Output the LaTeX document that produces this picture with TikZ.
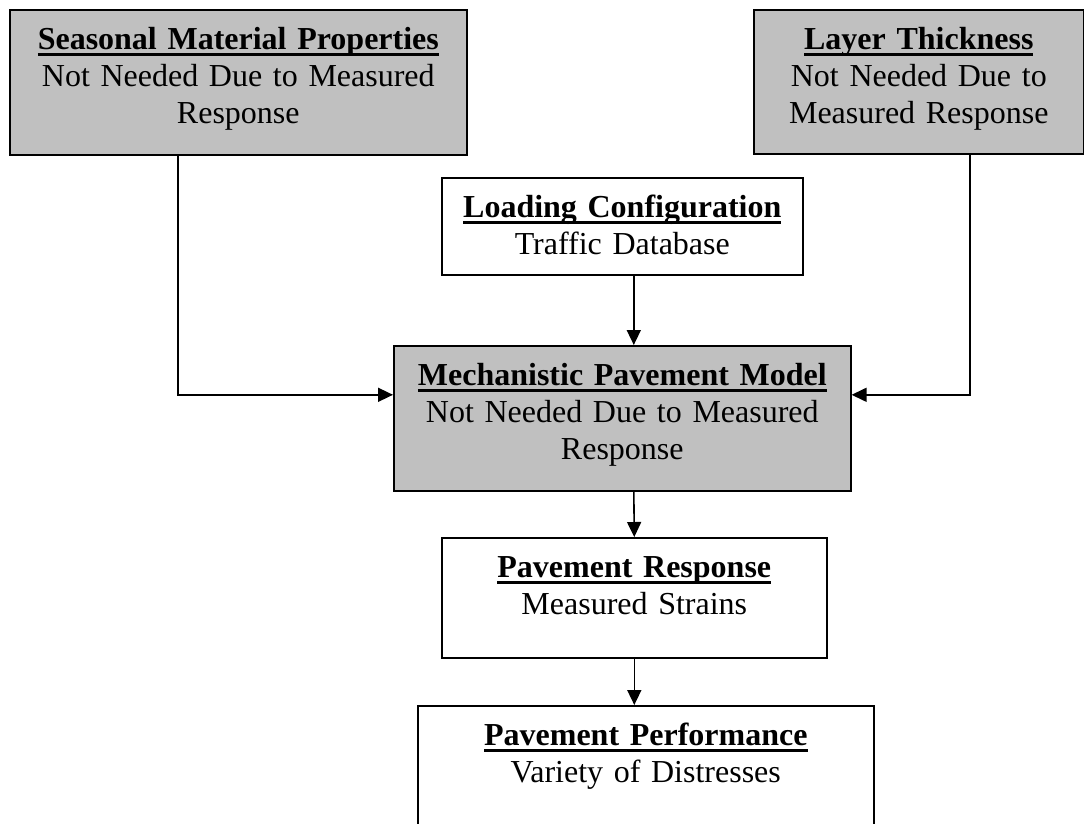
\documentclass[tikz,border=0pt]{standalone}
\usepackage{fontspec}
\setmainfont{Liberation Serif}
\usetikzlibrary{positioning,arrows.meta}
\definecolor{boxgray}{RGB}{192,192,192}
\newcommand{\boxhead}[1]{\setbox0=\hbox{\bfseries #1}\rlap{\rule[-6.5pt]{\wd0}{3pt}}\box0\strut}

\begin{document}
\begin{tikzpicture}[x=1pt, y=-1pt,
    graybox/.style={rectangle, draw=black, line width=1.6pt, fill=boxgray, anchor=north west, inner sep=0pt},
    whitebox/.style={rectangle, draw=black, line width=1.6pt, fill=white, anchor=north west, inner sep=0pt},
    boxtext/.style={anchor=north, text width=440pt, align=center, inner sep=0pt, font=\fontsize{32}{37}\selectfont},
    arrow/.style={line width=1.6pt, -{Triangle[length=15pt, width=14pt]}}]

        \useasboundingbox (0,0) rectangle (1084,823);
        \clip (0,0) rectangle (1084,823);

        \node[graybox, minimum width=457pt, minimum height=145pt] (seasonal) at (9,9) {};
        \node[graybox, minimum width=330pt, minimum height=144pt] (layer) at (753,9) {};
        \node[whitebox, minimum width=361pt, minimum height=97pt] (loading) at (441,177) {};
        \node[graybox, minimum width=457pt, minimum height=145pt] (model) at (393,345) {};
        \node[whitebox, minimum width=385pt, minimum height=120pt] (response) at (441,537) {};
        \node[whitebox, minimum width=456pt, minimum height=150pt] (performance) at (417,705) {};

        \node[boxtext] (seasonaltext) [below=14pt of seasonal.north] {\boxhead{Seasonal Material Properties}\\ Not Needed Due to Measured\\ Response};
        \node[boxtext] (layertext) [below=14pt of layer.north] {\boxhead{Layer Thickness}\\ Not Needed Due to\\ Measured Response};
        \node[boxtext] (loadingtext) [below=14pt of loading.north] {\boxhead{Loading Configuration}\\ Traffic Database};
        \node[boxtext] (modeltext) [below=14pt of model.north] {\boxhead{Mechanistic Pavement Model}\\ Not Needed Due to Measured\\ Response};
        \node[boxtext] (responsetext) [below=14pt of response.north] {\boxhead{Pavement Response}\\ Measured Strains};
        \node[boxtext] (performancetext) [below=14pt of performance.north] {\boxhead{Pavement Performance}\\ Variety of Distresses};

        \draw[arrow] ([xshift=-60.5pt]seasonal.south) |- ([yshift=23.5pt]model.west);
        \draw[arrow] ([xshift=51pt]layer.south) |- ([yshift=23.5pt]model.east);
        \draw[arrow] ([xshift=11.5pt]loading.south) -- ([xshift=11.5pt]model.north);
        \draw[arrow] ([xshift=11.5pt]model.south) -- (response.north);
        \draw[arrow] (response.south) -- (response.south |- performance.north);

\end{tikzpicture}
\end{document}
